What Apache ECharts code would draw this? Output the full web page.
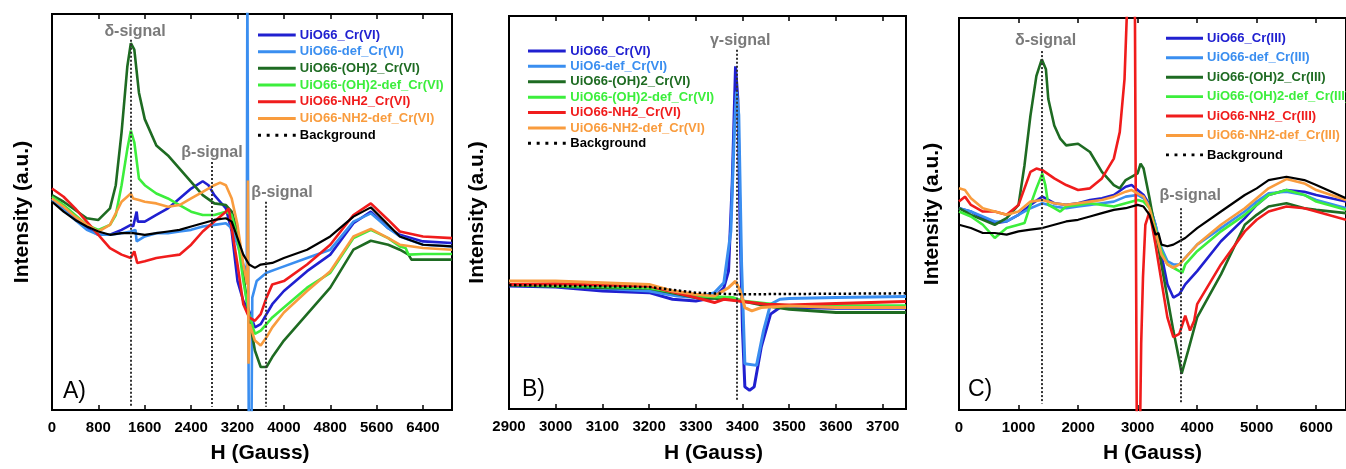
<!DOCTYPE html>
<html>
<head>
<meta charset="utf-8">
<script src="https://cdn.jsdelivr.net/npm/echarts@6/dist/echarts.min.js"></script>
<style>
  html, body { margin: 0; padding: 0; background: #fff; }
  #chart { width: 1346px; height: 469px; }
</style>
</head>
<body>
<div id="chart"></div>
<script>
// EPR spectra, intensity in arbitrary units, H in Gauss
const namesVI = ['UiO66_Cr(VI)', 'UiO66-def_Cr(VI)', 'UiO66-(OH)2_Cr(VI)', 'UiO66-(OH)2-def_Cr(VI)', 'UiO66-NH2_Cr(VI)', 'UiO66-NH2-def_Cr(VI)', 'Background']
const namesB = ['UiO66_Cr(VI)', 'UiO6-def_Cr(VI)', 'UiO66-(OH)2_Cr(VI)', 'UiO66-(OH)2-def_Cr(VI)', 'UiO66-NH2_Cr(VI)', 'UiO66-NH2-def_Cr(VI)', 'Background']
const namesIII = ['UiO66_Cr(III)', 'UiO66-def_Cr(III)', 'UiO66-(OH)2_Cr(III)', 'UiO66-(OH)2-def_Cr(III)', 'UiO66-NH2_Cr(III)', 'UiO66-NH2-def_Cr(III)', 'Background']
const colors = ['#2020d0', '#3a8ef0', '#1e6b22', '#3cee3c', '#f01c1c', '#f99c3e', '#000000']

// panel A
const aBlue = [[0,640],[200,610],[400,580],[600,550],[800,530],[1000,530],[1200,545],[1360,560],[1400,555],[1460,600],[1480,570],[1600,570],[1800,590],[2000,610],[2200,640],[2400,670],[2600,692],[2700,680],[2800,650],[2900,630],[3000,610],[3100,540],[3200,390],[3300,330],[3400,300],[3500,250],[3600,260],[3700,290],[3800,320],[4000,360],[4400,420],[4800,470],[5200,565],[5500,600],[5800,550],[6000,530],[6400,510],[6900,505]]
const aLightBlue = [[0,635],[200,605],[400,575],[600,545],[800,530],[1000,530],[1200,535],[1360,540],[1440,545],[1460,510],[1600,525],[1800,535],[2000,535],[2200,540],[2400,545],[2600,555],[2800,560],[3000,565],[3100,550],[3200,500],[3300,440],[3360,420],[3370,1300],[3395,-100],[3440,-100],[3455,340],[3530,390],[3700,415],[3930,430],[4400,460],[4800,485],[5200,570],[5500,595],[5800,550],[6000,525],[6400,500],[6900,495]]
const aDarkGreen = [[0,650],[200,630],[400,605],[600,580],[800,575],[1000,610],[1100,680],[1200,840],[1300,1040],[1360,1110],[1420,1090],[1500,960],[1600,880],[1800,800],[2000,770],[2200,730],[2400,690],[2600,650],[2800,625],[3000,620],[3100,600],[3200,540],[3300,410],[3400,280],[3500,180],[3600,130],[3700,130],[3800,160],[4000,210],[4400,290],[4800,370],[5200,485],[5500,512],[5800,500],[6000,485],[6150,470],[6200,455],[6900,455]]
const aLightGreen = [[0,645],[200,620],[400,590],[600,560],[800,545],[1000,560],[1100,590],[1200,680],[1300,790],[1360,845],[1420,810],[1500,700],[1600,680],[1800,655],[2000,640],[2200,620],[2400,600],[2600,590],[2800,590],[3000,600],[3100,590],[3200,520],[3300,390],[3400,290],[3500,230],[3600,240],[3700,260],[3800,280],[4000,310],[4400,370],[4800,415],[5200,520],[5500,545],[5800,520],[6000,495],[6100,490],[6150,470],[6400,472],[6900,472]]
const aRed = [[0,670],[200,645],[400,610],[600,570],[800,530],[1000,490],[1200,470],[1360,460],[1420,480],[1470,445],[1600,450],[1800,460],[2000,465],[2200,470],[2400,500],[2600,540],[2800,570],[3000,600],[3050,610],[3100,550],[3200,440],[3300,320],[3400,280],[3500,270],[3600,290],[3700,340],[3800,380],[4000,390],[4400,440],[4800,500],[5200,590],[5500,625],[5800,575],[6000,540],[6400,525],[6900,520]]
const aOrange = [[0,640],[200,615],[400,585],[600,560],[800,540],[1000,560],[1200,630],[1360,655],[1400,640],[1500,635],[1600,630],[1800,625],[2000,615],[2200,620],[2400,640],[2600,660],[2800,680],[2900,688],[3000,680],[3100,640],[3200,560],[3300,440],[3370,380],[3380,694],[3390,140],[3410,260],[3500,210],[3600,195],[3700,220],[3800,250],[4000,295],[4400,360],[4800,420],[5200,525],[5500,548],[5800,520],[6000,500],[6400,490],[6900,485]]
const aBackground = [[0,630],[200,600],[400,575],[600,555],[800,540],[1000,530],[1200,535],[1400,535],[1600,530],[1800,535],[2000,540],[2200,545],[2400,555],[2600,565],[2800,575],[3000,580],[3100,570],[3200,520],[3300,470],[3400,440],[3500,430],[3600,440],[3800,445],[4000,460],[4400,485],[4800,525],[5200,585],[5500,613],[5800,560],[6000,525],[6400,500],[6900,495]]
const aMarkers = [
  { name: 'δ-signal', h: 1362, top: 1120, bottom: 10, labelH: 1432, labelV: 1144 },
  { name: 'β-signal', h: 2760, top: 750, bottom: 10, labelH: 2760, labelV: 778 },
  { name: 'β-signal', h: 3690, top: 630, bottom: 10, labelH: 3968, labelV: 657 }
]

// panel B
const bBlue = [[2900,372],[3000,369],[3100,357],[3200,352],[3250,332],[3300,327],[3340,337],[3360,367],[3370,417],[3378,687],[3385,1037],[3390,937],[3395,537],[3400,237],[3405,67],[3415,57],[3425,67],[3440,187],[3460,287],[3480,307],[3500,307],[3600,305],[3750,305]]
const bLightBlue = [[2900,377],[3100,365],[3200,357],[3260,342],[3300,337],[3340,352],[3360,382],[3375,537],[3383,857],[3387,960],[3392,890],[3398,437],[3405,137],[3430,132],[3445,237],[3460,317],[3480,332],[3500,334],[3600,337],[3750,340]]
const bDarkGreen = [[2900,375],[3100,367],[3200,365],[3300,337],[3380,332],[3400,327],[3450,312],[3500,302],[3600,292],[3750,292]]
const bLightGreen = [[2900,377],[3200,367],[3300,342],[3380,337],[3400,327],[3500,312],[3750,312]]
const bRed = [[2900,377],[3000,379],[3100,375],[3200,372],[3300,337],[3340,322],[3360,332],[3400,325],[3450,317],[3500,315],[3600,319],[3750,325]]
const bOrange = [[2900,387],[3000,387],[3100,382],[3200,377],[3250,357],[3300,347],[3340,342],[3370,367],[3385,387],[3395,357],[3405,307],[3420,297],[3440,307],[3500,312],[3600,307],[3750,307]]
const bBackground = [[2900,375],[3200,369],[3300,352],[3385,347],[3750,350]]
const bMarkers = [
  { name: 'γ-signal', h: 3387, top: 1087, bottom: 22, labelH: 3395, labelV: 1115 }
]

// panel C
const cBlue = [[0,610],[200,600],[400,580],[600,565],[800,570],[1000,590],[1200,620],[1400,645],[1600,625],[1800,620],[2000,625],[2200,635],[2400,640],[2600,650],[2800,675],[2900,680],[3000,665],[3100,650],[3200,620],[3300,560],[3400,470],[3500,380],[3600,340],[3700,350],[3800,380],[4000,420],[4400,510],[4800,580],[5000,620],[5200,650],[5500,665],[5800,660],[6000,650],[6500,630]]
const cLightBlue = [[0,610],[200,600],[400,585],[600,570],[800,570],[1000,590],[1200,610],[1400,625],[1600,615],[1800,610],[2000,615],[2200,620],[2400,625],[2600,630],[2800,645],[3000,650],[3100,640],[3200,620],[3300,560],[3400,490],[3500,450],[3600,440],[3700,440],[3800,460],[4000,500],[4400,550],[4800,600],[5000,630],[5200,655],[5500,660],[5800,650],[6000,635],[6500,610]]
const cDarkGreen = [[0,610],[200,590],[400,575],[600,560],[800,580],[1000,620],[1100,740],[1200,890],[1300,1010],[1390,1060],[1460,1030],[1500,940],[1600,860],[1700,820],[1800,800],[2000,805],[2200,780],[2400,720],[2600,680],[2700,670],[2800,695],[3000,715],[3050,745],[3100,730],[3200,640],[3300,540],[3400,440],[3500,340],[3600,240],[3700,150],[3740,110],[3850,180],[4000,280],[4400,410],[4800,560],[5000,590],[5200,615],[5500,625],[5800,610],[6000,605],[6500,595]]
const cLightGreen = [[0,600],[200,585],[400,560],[600,520],[800,550],[1000,560],[1100,565],[1200,620],[1300,670],[1400,715],[1450,680],[1500,620],[1600,610],[1700,600],[1800,615],[2000,620],[2200,625],[2400,620],[2600,615],[2800,625],[3000,635],[3100,630],[3200,610],[3300,550],[3400,480],[3500,440],[3600,430],[3700,420],[3750,415],[3800,440],[4000,480],[4400,540],[4800,590],[5000,620],[5200,650],[5500,665],[5800,650],[6000,630],[6500,605]]
const cRed = [[0,630],[100,645],[200,620],[400,600],[600,600],[800,590],[1000,620],[1200,720],[1300,730],[1400,725],[1600,700],[1800,680],[2000,665],[2200,670],[2400,700],[2600,760],[2700,840],[2780,1000],[2820,1200],[2840,1400],[2950,1400],[2990,-200],[3030,-200],[3060,200],[3090,400],[3130,560],[3200,600],[3300,500],[3400,390],[3500,280],[3600,220],[3700,230],[3800,285],[3880,240],[3950,270],[4000,320],[4400,440],[4800,540],[5000,575],[5200,600],[5500,615],[5800,610],[6000,600],[6500,575]]
const cOrange = [[0,670],[100,665],[200,640],[400,610],[600,600],[800,590],[1000,600],[1200,630],[1400,635],[1600,625],[1800,620],[2000,625],[2200,630],[2400,635],[2600,645],[2800,660],[2900,665],[3000,655],[3100,645],[3200,610],[3300,540],[3400,470],[3500,440],[3600,430],[3700,440],[3800,460],[4000,500],[4400,560],[4800,610],[5000,640],[5200,670],[5500,698],[5800,685],[6000,665],[6500,635]]
const cBackground = [[0,560],[200,550],[400,535],[600,535],[800,530],[1000,540],[1200,545],[1400,550],[1600,560],[1800,570],[2000,575],[2200,585],[2400,595],[2600,605],[2800,610],[3000,620],[3100,615],[3200,590],[3300,530],[3350,535],[3400,500],[3500,495],[3600,500],[3800,520],[4000,550],[4400,600],[4800,650],[5000,670],[5200,695],[5500,705],[5800,695],[6000,680],[6500,640]]
const cMarkers = [
  { name: 'δ-signal', h: 1384, top: 1085, bottom: 20, labelH: 1454, labelV: 1118 },
  { name: 'β-signal', h: 3726, top: 610, bottom: 20, labelH: 3883, labelV: 648 }
]

const FONT = '"Liberation Sans", Arial, sans-serif'

// legend glyphs: a solid bar, or a row of dots, inside a 38x14 box
const ICON_LINE = 'path://M0,0h0.1v0.1h-0.1z M0,14h0.1v0.1h-0.1z M0,5.5h38v3h-38z'
const ICON_DOTS = 'path://M0,0h0.1v0.1h-0.1z M0,14h0.1v0.1h-0.1z M0,5.5h3v3h-3z M8.75,5.5h3v3h-3z M17.5,5.5h3v3h-3z M26.25,5.5h3v3h-3z M35,5.5h3v3h-3z'

const panels = [
  {
    grid: { left: 52, top: 14, width: 400, height: 399 },
    xMin: 0, xMax: 6900, interval: 800, yMax: 1198,
    names: namesVI, data: [aBlue, aLightBlue, aDarkGreen, aLightGreen, aRed, aOrange, aBackground],
    markers: aMarkers, width: 2.6, bgDotted: false,
    legend: { left: 258, top: 28, itemWidth: 38, itemGap: 2.7 },
    yGap: 19, xGap: 33, xShift: 16, letter: 'A)', letterPos: [63, 380]
  },
  {
    grid: { left: 509, top: 16, width: 397, height: 396 },
    xMin: 2900, xMax: 3750, interval: 100, yMax: 1189,
    names: namesB, data: [bBlue, bLightBlue, bDarkGreen, bLightGreen, bRed, bOrange, bBackground],
    markers: bMarkers, width: 3, bgDotted: true,
    legend: { left: 528, top: 44, itemWidth: 39, itemGap: 1.4 },
    yGap: 21, xGap: 34, xShift: 12, letter: 'B)', letterPos: [522, 378]
  },
  {
    grid: { left: 959, top: 18, width: 403, height: 395 },
    xMin: 0, xMax: 6500, interval: 1000, yMax: 1185,
    names: namesIII, data: [cBlue, cLightBlue, cDarkGreen, cLightGreen, cRed, cOrange, cBackground],
    markers: cMarkers, width: 2.6, bgDotted: false,
    legend: { left: 1166, top: 31.5, itemWidth: 37, itemGap: 5.7 },
    yGap: 16, xGap: 33, xShift: 0, letter: 'C)', letterPos: [968, 378]
  }
]

const grid = []
const xAxis = []
const yAxis = []
const series = []
const legend = []
const graphic = []

panels.forEach((p, i) => {
  grid.push(Object.assign({ show: true, borderColor: '#000', borderWidth: 2, backgroundColor: '#fff' }, p.grid))
  const common = {
    type: 'value', gridIndex: i, min: p.xMin, max: p.xMax, interval: p.interval,
    axisLine: { show: false },
    axisTick: { show: true, inside: true, length: 5, lineStyle: { color: '#000', width: 1.5 } },
    splitLine: { show: false }
  }
  xAxis.push(Object.assign({}, common, {
    position: 'bottom',
    axisLabel: {
      margin: 10, fontSize: 15, fontWeight: 'bold', color: '#000', fontFamily: FONT,
      formatter: v => String(v),
      showMaxLabel: p.xMax % p.interval === 0
    },
    name: 'H (Gauss)', nameLocation: 'middle', nameGap: p.xGap,
    nameTextStyle: { fontSize: 21, fontWeight: 'bold', color: '#000', fontFamily: FONT, padding: [0, 0, 0, p.xShift] }
  }))
  xAxis.push(Object.assign({}, common, { position: 'top', axisLabel: { show: false } }))
  yAxis.push({
    type: 'value', gridIndex: i, min: 0, max: p.yMax,
    axisLine: { show: false }, axisTick: { show: false }, axisLabel: { show: false }, splitLine: { show: false },
    name: 'Intensity (a.u.)', nameLocation: 'middle', nameGap: p.yGap,
    nameTextStyle: { fontSize: 21, fontWeight: 'bold', color: '#000', fontFamily: FONT }
  })

  p.names.forEach((name, k) => {
    const isBg = k === 6
    const s = {
      name: name, type: 'line', xAxisIndex: i * 2, yAxisIndex: i,
      data: p.data[k], symbol: 'none', showSymbol: false, clip: true, silent: true,
      lineStyle: { color: colors[k], width: isBg ? (p.bgDotted ? 2.5 : 2.2) : p.width, type: isBg && p.bgDotted ? 'dotted' : 'solid' },
      itemStyle: { color: colors[k] },
      z: isBg ? 3 : 2
    }
    if (isBg) {
      s.markLine = {
        silent: true, symbol: 'none', animation: false,
        lineStyle: { type: 'dotted', color: '#333', width: 2 },
        label: { show: false },
        data: p.markers.map(m => [{ coord: [m.h, m.top] }, { coord: [m.h, m.bottom] }])
      }
      s.markPoint = {
        silent: true, symbol: 'circle', symbolSize: 0, animation: false,
        label: { show: true, position: 'inside', formatter: q => q.name, fontSize: 16, fontWeight: 'bold', color: '#7a7a7a', fontFamily: FONT },
        data: p.markers.map(m => ({ name: m.name, coord: [m.labelH, m.labelV] }))
      }
    }
    series.push(s)
  })

  legend.push({
    orient: 'vertical', left: p.legend.left, top: p.legend.top,
    itemWidth: p.legend.itemWidth, itemHeight: 14, itemGap: p.legend.itemGap,
    selectedMode: false, padding: 0,
    textStyle: { fontSize: 13, fontWeight: 'bold', fontFamily: FONT, padding: [0, 0, 0, -1] },
    data: p.names.map((name, k) => ({
      name: name,
      icon: k === 6 ? ICON_DOTS : ICON_LINE,
      itemStyle: { color: colors[k] },
      textStyle: { color: colors[k] }
    }))
  })

  graphic.push({
    type: 'text', left: p.letterPos[0], top: p.letterPos[1], z: 100,
    style: { text: p.letter, font: '23px ' + FONT, fill: '#000' }
  })
})

const chart = echarts.init(document.getElementById('chart'), null, { renderer: 'canvas' })
chart.setOption({
  animation: false,
  backgroundColor: '#fff',
  grid: grid,
  xAxis: xAxis,
  yAxis: yAxis,
  legend: legend,
  graphic: graphic,
  series: series
})
</script>
</body>
</html>
